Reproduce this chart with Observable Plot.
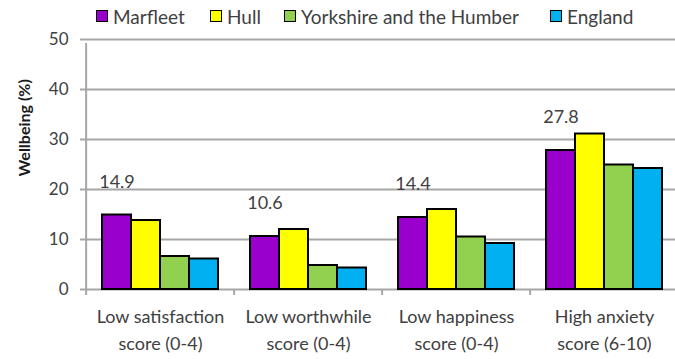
<!DOCTYPE html>
<html>
<head>
<meta charset="utf-8">
<script src="https://cdn.jsdelivr.net/npm/d3@7"></script>
<script src="https://cdn.jsdelivr.net/npm/@observablehq/plot@0.6"></script>
<style>
  html, body { margin: 0; padding: 0; background: #fff; }
  #chart { width: 675px; height: 359px; overflow: hidden; font-family: Lato, "Open Sans", sans-serif; }
  .legend { position: relative; height: 32px; font-size: 19px; color: #404040; }
  .legend .item { position: absolute; top: 0; height: 32px; display: flex; align-items: center; white-space: nowrap; }
  .legend .swatch { width: 12px; height: 12px; box-sizing: border-box; border: 1.8px solid #000; margin-right: 5px; }
  svg { display: block; }
</style>
</head>
<body>
<div id="chart"></div>
<script>
// Wellbeing indicators by area (%)
const categories = [
  "Low satisfaction score (0-4)",
  "Low worthwhile score (0-4)",
  "Low happiness score (0-4)",
  "High anxiety score (6-10)"
];
const series = ["Marfleet", "Hull", "Yorkshire and the Humber", "England"];
const marfleet = [14.9, 10.6, 14.4, 27.8];
const hull = [13.8, 12.0, 16.0, 31.1];
const yorkshire = [6.6, 4.8, 10.5, 24.9];
const england = [6.1, 4.3, 9.2, 24.2];
const colors = ["#9900CC", "#FFFF00", "#92D050", "#00B0F0"];
const yTicks = [0, 10, 20, 30, 40, 50];
const yTitle = "Wellbeing (%)";

const valuesBySeries = [marfleet, hull, yorkshire, england];
const rows = [];
categories.forEach((c, i) => {
  series.forEach((s, j) => rows.push({category: c, series: s, value: valuesBySeries[j][i]}));
});
const labelled = rows.filter(d => d.series === series[0]);

// Layout
const W = 675, H = 327;
const mL = 84, mR = -4, mT = 7, mB = 70;
const halfGroup = (W - mL - mR) / categories.length / 2;
const legendLeft = [96, 210, 284, 550];
const grey = "#a6a6a6";
const textColor = "#404040";

// Legend above the plot
const chart = document.getElementById("chart");
const legend = document.createElement("div");
legend.className = "legend";
series.forEach((s, j) => {
  const item = document.createElement("div");
  item.className = "item";
  item.style.left = legendLeft[j] + "px";
  const sw = document.createElement("span");
  sw.className = "swatch";
  sw.style.background = colors[j];
  const tx = document.createElement("span");
  tx.textContent = s;
  item.append(sw, tx);
  legend.append(item);
});
chart.append(legend);

const splitLabel = d => d.replace(" score", "\nscore");

const plot = Plot.plot({
  width: W,
  height: H,
  marginLeft: mL,
  marginRight: mR,
  marginTop: mT,
  marginBottom: mB,
  style: {fontFamily: "Lato, 'Open Sans', sans-serif", fontSize: "17px", color: textColor, background: "#fff", overflow: "visible"},
  fx: {domain: categories, padding: 0, axis: null},
  x: {domain: series, paddingInner: 0, paddingOuter: 0.5, axis: null},
  y: {domain: [0, 50], axis: null},
  color: {domain: series, range: colors},
  marks: [
    // horizontal gridlines and baseline
    Plot.ruleY(yTicks, {stroke: grey, strokeWidth: 2}),
    // vertical axis line
    Plot.ruleX([categories[0]], {fx: d => d, x: null, dx: -halfGroup, y1: 0, y2: 50, insetBottom: -4, stroke: grey, strokeWidth: 2}),
    // category boundary ticks
    Plot.ruleX(categories, {fx: d => d, x: null, dx: -halfGroup, y1: 0, y2: 0, insetBottom: -6, stroke: grey, strokeWidth: 2}),
    Plot.axisY({ticks: yTicks, tickSize: 6, tickPadding: 12, stroke: grey, strokeWidth: 2, strokeOpacity: 1, fill: textColor, fontSize: 17, label: null}),
    Plot.barY(rows, {fx: "category", x: "series", y: "value", fill: "series", stroke: "#000", strokeWidth: 2}),
    Plot.text(labelled, {fx: "category", x: "series", y: "value", text: d => d.value.toFixed(1), dy: -33, fill: textColor, fontSize: 18}),
    Plot.text(categories, {fx: d => d, text: splitLabel, frameAnchor: "bottom", lineAnchor: "top", dy: 14, lineHeight: 1.5, fill: textColor, fontSize: 18}),
    Plot.text([yTitle], {fx: () => categories[0], frameAnchor: "left", rotate: -90, dx: -62, dy: 12, fontWeight: "bold", fontSize: 16, fill: "#1a1a1a"})
  ]
});
chart.append(plot);
</script>
</body>
</html>
